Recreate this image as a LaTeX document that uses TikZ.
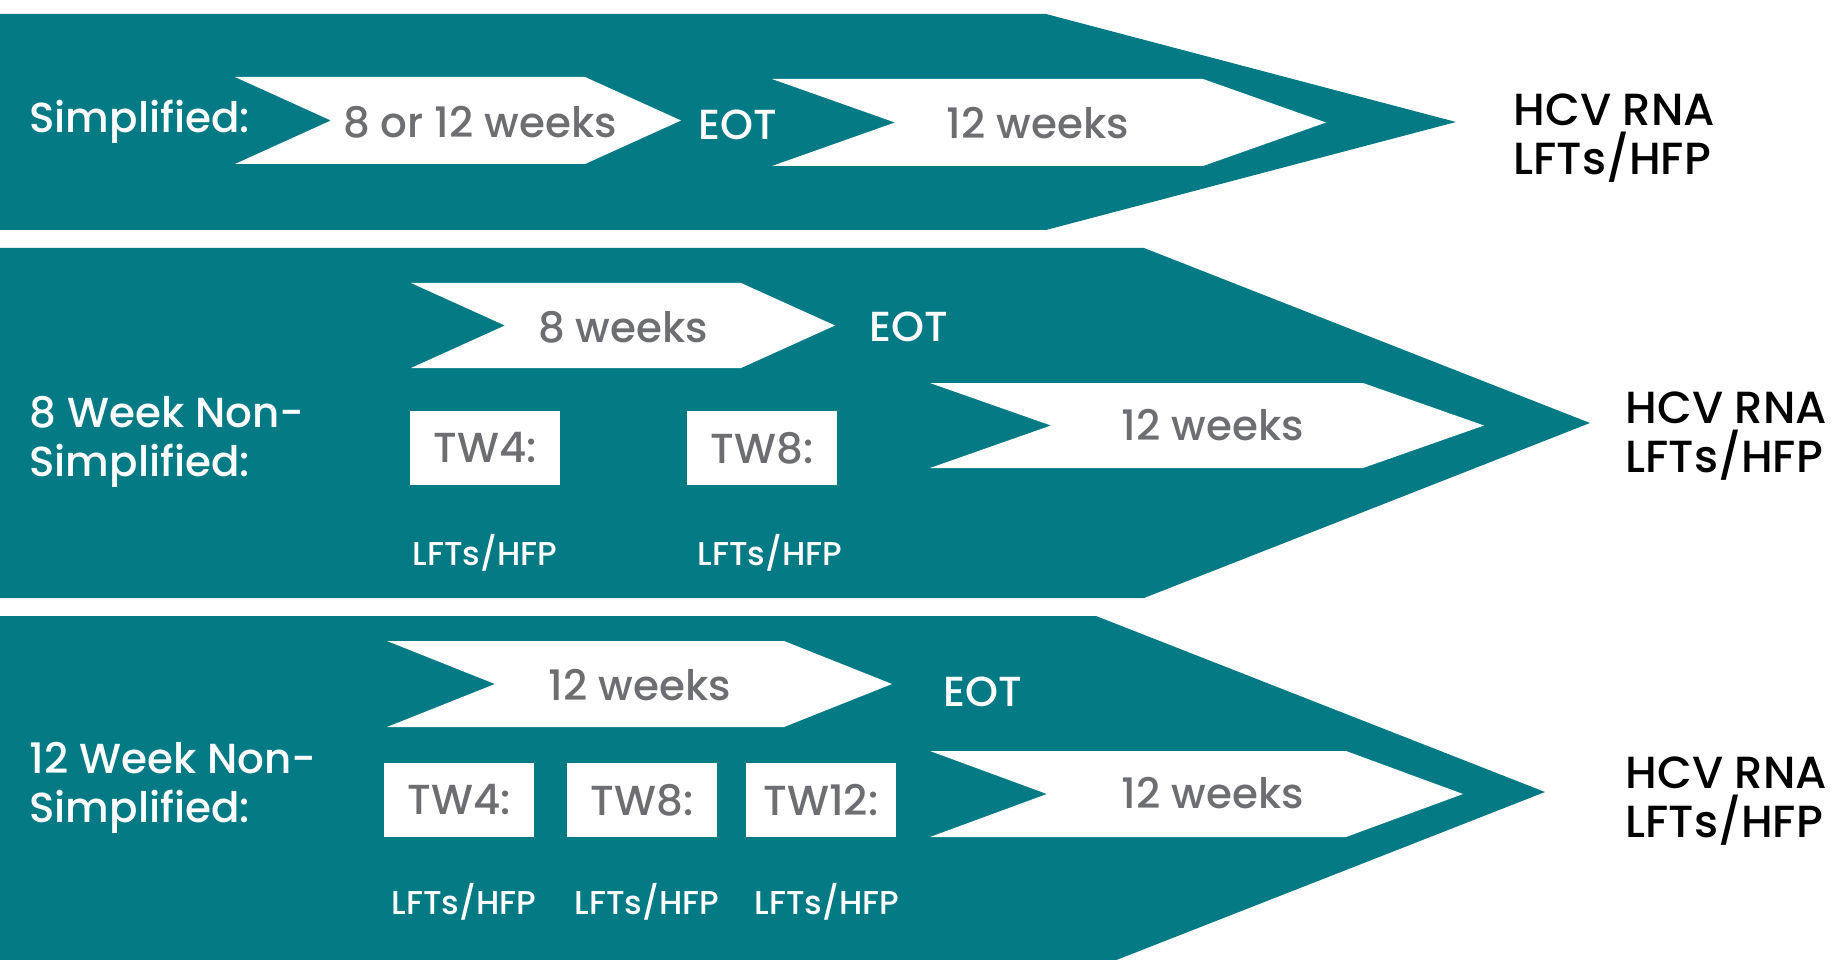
\documentclass[tikz,border=0pt]{standalone}
\usepackage{fontspec}
\setmainfont{Poppins}[UprightFont={* Medium}, BoldFont={* Bold}]
\usepackage{xcolor}
\usepackage{tikz}

\definecolor{bandteal}{HTML}{037A84}
\definecolor{weekgray}{HTML}{6D6E71}

\newcommand{\bandshape}[5]{% top, bottom, corner x, tip x, tip y
	\fill[band] (0,#1) -- (#3,#1) -- (#4,#5) -- (#3,#2) -- (0,#2) -- cycle;}
\newcommand{\chevshape}[5]{% left x, right x, top, bottom, point depth
	\fill[chev] (#1,#3) -- (#2-#5,#3) -- (#2,{(#3+#4)/2}) -- (#2-#5,#4) -- (#1,#4) -- (#1+#5,{(#3+#4)/2}) -- cycle;}

\tikzset{
	band/.style={fill=bandteal},
	chev/.style={fill=white},
	lbl/.style={text=white, align=left, font=\fontsize{42}{49}\selectfont},
	wk/.style={text=weekgray, font=\fontsize{42}{49}\selectfont},
	twbox/.style={fill=white, text=weekgray, minimum width=150, minimum height=74, inner sep=0pt, font=\fontsize{42}{49}\selectfont},
	lft/.style={text=white, font=\fontsize{33}{38}\selectfont},
	result/.style={text=black, align=left, anchor=west, font=\fontsize{45}{49}\selectfont},
}

\begin{document}
\begin{tikzpicture}[x=1pt, y=-1pt]
		\clip (0,0) rectangle (1832,960);
		\fill[white] (0,0) rectangle (1832,960);

		\bandshape{14}{230}{1046}{1456}{122}
		\chevshape{235}{681}{77}{164}{96}
		\chevshape{772}{1326}{79}{166}{123}
		\node[lbl, anchor=west] (simp) at (26,122) {Simplified:};
		\node[wk] (simpwk) at (480,122) {8 or 12 weeks};
		\node[lbl] (simpeot) at (738,125) {EOT};
		\node[wk] (simpfu) at (1038,123) {12 weeks};
		\node[result] (simpres) at (1510,138) {HCV RNA\\LFTs/HFP};

		\bandshape{248}{598}{1144}{1590}{423}
		\chevshape{411}{835}{283}{368}{94}
		\chevshape{930}{1484}{383}{468}{121}
		\node[lbl, anchor=west] (eight) at (26,442) {8 Week Non-\\Simplified:};
		\node[wk] (eightwk) at (623,327) {8 weeks};
		\node[lbl] (eighteot) at (909,327) {EOT};
		\node[wk] (eightfu) at (1213,425) {12 weeks};
		\node[twbox] (eighttwa) at (485,448) {TW4:};
		\node[twbox] (eighttwb) at (762,448) {TW8:};
		\node[lft] (eightlfa) at (485,553) {LFTs/HFP};
		\node[lft] (eightlfb) at (770,553) {LFTs/HFP};
		\node[result] (eightres) at (1622,436) {HCV RNA\\LFTs/HFP};

		\bandshape{616}{968}{1096}{1545}{792}
		\chevshape{387}{892}{641}{727}{108}
		\chevshape{930}{1463}{751}{837}{117}
		\node[lbl, anchor=west] (twelve) at (26,788) {12 Week Non-\\Simplified:};
		\node[wk] (twelvewk) at (640,685) {12 weeks};
		\node[lbl] (twelveeot) at (983,692) {EOT};
		\node[wk] (twelvefu) at (1213,793) {12 weeks};
		\node[twbox] (twelvetwa) at (459,800) {TW4:};
		\node[twbox] (twelvetwb) at (642,800) {TW8:};
		\node[twbox] (twelvetwc) at (821,800) {TW12:};
		\node[lft] (twelvelfa) at (464,902) {LFTs/HFP};
		\node[lft] (twelvelfb) at (647,902) {LFTs/HFP};
		\node[lft] (twelvelfc) at (827,902) {LFTs/HFP};
		\node[result] (twelveres) at (1622,801) {HCV RNA\\LFTs/HFP};
\end{tikzpicture}
\end{document}
